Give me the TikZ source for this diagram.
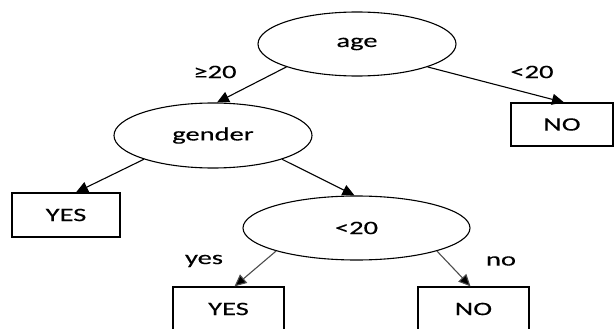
\documentclass[tikz,border=0pt]{standalone}
\usepackage{fontspec}
\setmainfont[FakeStretch=1.5,FakeBold=0.3]{Carlito}
\usetikzlibrary{shapes.geometric,arrows.meta}
\tikzset{
  cond/.style={draw=black, line width=1.1pt, ellipse, inner sep=0pt, font=\fontsize{19}{22}\selectfont},
  leaf/.style={draw=black, line width=1.2pt, rectangle, inner sep=0pt, minimum width=111pt, minimum height=44pt, font=\fontsize{19}{22}\selectfont},
  edge/.style={line width=1.1pt, -{Triangle[length=12pt,width=11pt]}},
  graye/.style={edge, draw=black!70, -{Triangle[length=12pt,width=11pt,fill=black]}},
  lbl/.style={inner sep=0pt, font=\fontsize{19}{22}\selectfont}
}
\begin{document}
\begin{tikzpicture}[x=1pt,y=-1pt]
\useasboundingbox (0,0) rectangle (614,329);
\clip (0,0) rectangle (614,329);
\node[cond, minimum width=198pt, minimum height=64pt] (age) at (357,44) {age};
\node[cond, minimum width=198pt, minimum height=65pt] (gender) at (213,135.5) {gender};
\node[cond, minimum width=227pt, minimum height=64pt] (lt) at (356.5,228) {\raisebox{-5pt}{<20}};
\node[leaf, minimum width=102pt, minimum height=43pt] (no1) at (562,124.5) {NO};
\node[leaf, minimum width=108pt] (yes1) at (66,215) {YES};
\node[leaf] (yes2) at (228.5,309) {YES};
\node[leaf] (no2) at (473.5,309) {NO};
\node[lbl] (l1) at (215,72) {≥20};
\node[lbl] (l2) at (532,72) {<20};
\node[lbl] (l3) at (204,261) {yes};
\node[lbl] (l4) at (501,261) {no};
\draw[edge] (age.198) -- ([xshift=4pt]gender.north);
\draw[edge] (age.-18) -- ([xshift=2pt]no1.north);
\draw[edge] (gender.199) -- ([xshift=10pt]yes1.north);
\draw[edge] (gender.-19) -- ([xshift=-2pt]lt.north);
\draw[graye] (lt.196.6) -- ([xshift=6pt]yes2.north);
\draw[graye] (lt.-16.4) -- ([xshift=-3pt]no2.north);
\end{tikzpicture}
\end{document}
